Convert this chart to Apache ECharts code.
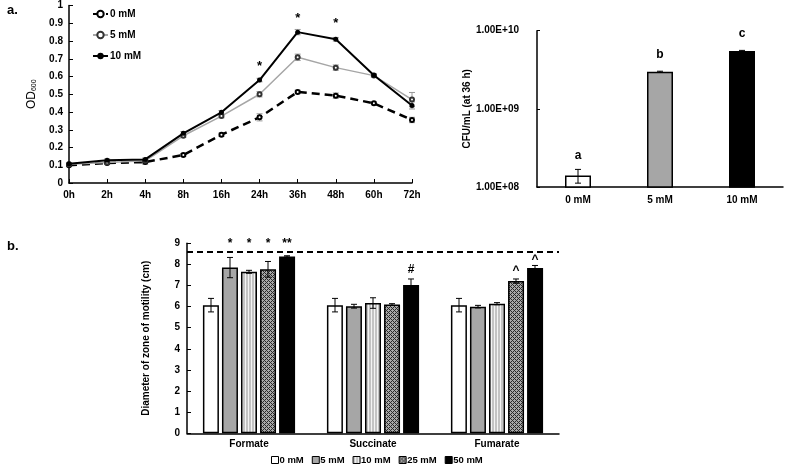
<!DOCTYPE html>
<html><head><meta charset="utf-8">
<script src="https://cdn.jsdelivr.net/npm/echarts@6/dist/echarts.min.js"></script>
<style>html,body{margin:0;padding:0;background:#fff}#c{width:787px;height:466px}</style>
</head><body><div id="c"></div>
<script>
// ---- Panel a (left): growth curve ----
const timeCats = ['0h','2h','4h','8h','16h','24h','36h','48h','60h','72h'];
const od0  = [0.10, 0.112, 0.118, 0.158, 0.272, 0.37, 0.513, 0.492, 0.449, 0.355];
const od5  = [0.105, 0.115, 0.125, 0.266, 0.377, 0.50, 0.708, 0.65, 0.605, 0.47];
const od10 = [0.108, 0.128, 0.133, 0.28, 0.398, 0.58, 0.85, 0.81, 0.607, 0.437];
const odErr0  = [0.005,0.005,0.012,0.008,0.01,0.02,0.01,0.015,0.008,0.015];
const odErr5  = [0.005,0.005,0.01,0.01,0.01,0.015,0.018,0.015,0.008,0.04];
const odErr10 = [0.005,0.008,0.008,0.01,0.01,0.01,0.015,0.01,0.008,0.02];
const odStarIdx = [5, 6, 7];
const odStarY = [0.655, 0.93, 0.90];
const lineNames = ['0 mM','5 mM','10 mM'];

// ---- Panel a (right): CFU ----
const cfuCats = ['0 mM','5 mM','10 mM'];
const cfuVals = [1.4e8, 2.98e9, 5.48e9];
const cfuErr  = [0.28e8, 0.05e9, 0.12e9];
const cfuLetters = ['a','b','c'];
const cfuLetterY = [2.5e8, 5.0e9, 9.2e9];

// ---- Panel b: motility ----
const acidCats = ['Formate','Succinate','Fumarate'];
const concNames = ['0 mM','5 mM','10 mM','25 mM','50 mM'];
const mot0  = [6.07, 6.07, 6.07];
const mot5  = [7.85, 6.02, 6.0];
const mot10 = [7.65, 6.17, 6.14];
const mot25 = [7.77, 6.10, 7.21];
const mot50 = [8.38, 7.03, 7.83];
const motErr0  = [0.32, 0.32, 0.32];
const motErr5  = [0.48, 0.09, 0.06];
const motErr10 = [0.07, 0.25, 0.05];
const motErr25 = [0.37, 0.04, 0.10];
const motErr50 = [0.03, 0.28, 0.12];
const motMarks = [['','',''], ['*','',''], ['*','',''], ['*','','^'], ['**','#','^']];
const motMarkY = [[0,0,0], [8.97,0,0], [8.97,0,0], [8.97,0,7.72], [8.97,7.73,8.24]];
const refLine = 8.6;

const FONT = 'Liberation Sans, Arial, sans-serif';

function stripe(){
  const c=document.createElement('canvas'); c.width=3; c.height=3;
  const x=c.getContext('2d'); x.fillStyle='#c4c4c4'; x.fillRect(0,0,3,3);
  x.fillStyle='#f4f4f4'; x.fillRect(2,0,1,3); return c;
}
function hatch(){
  const c=document.createElement('canvas'); c.width=4; c.height=4;
  const x=c.getContext('2d'); x.fillStyle='#a8a8a8'; x.fillRect(0,0,4,4);
  x.fillStyle='#2a2a2a';
  for(let i=0;i<4;i++){ for(let j=0;j<4;j++){ if((i+j)%4===0 || (i-j+4)%4===0) x.fillRect(i,j,1,1);} }
  return c;
}
const concColors = ['#ffffff','#a6a6a6',{image:stripe(),repeat:'repeat'},{image:hatch(),repeat:'repeat'},'#000000'];

const motVals = [mot0,mot5,mot10,mot25,mot50];
const motErrs = [motErr0,motErr5,motErr10,motErr25,motErr50];

const chart = echarts.init(document.getElementById('c'), null, {renderer:'canvas'});

const axisLine = {lineStyle:{color:'#000',width:1.5}};
const lbl = {color:'#000',fontWeight:'bold',fontSize:10,fontFamily:FONT};

function errRender(color, offFn){
  return function(params, api){
    const xi=api.value(0), v=api.value(1), e=api.value(2), s=api.value(3)||0;
    const off = offFn ? offFn(s) : 0;
    const p1=api.coord([xi, v+e]), p2=api.coord([xi, v-e]);
    const x=p1[0]+off, w=3;
    const st={stroke:color,lineWidth:1};
    return {type:'group',children:[
      {type:'line',shape:{x1:x,y1:p1[1],x2:x,y2:p2[1]},style:st},
      {type:'line',shape:{x1:x-w,y1:p1[1],x2:x+w,y2:p1[1]},style:st},
      {type:'line',shape:{x1:x-w,y1:p2[1],x2:x+w,y2:p2[1]},style:st}
    ]};
  };
}
function textRender(size, arr, offFn){
  return function(params, api){
    const d = arr[params.dataIndex];
    const off = offFn ? offFn(d[3]) : 0;
    const p=api.coord([d[0],d[1]]);
    return {type:'text',x:p[0]+off,y:p[1],style:{text:d[2],fill:'#000',font:'bold '+size+'px '+FONT,align:'center',verticalAlign:'middle'}};
  };
}

const series = [];
const odVals=[od0,od5,od10], odErrs=[odErr0,odErr5,odErr10];
series.push({name:'0 mM',type:'line',xAxisIndex:0,yAxisIndex:0,data:od0,symbol:'emptyCircle',symbolSize:4,
  lineStyle:{color:'#000',width:2.5,type:[8,5]},itemStyle:{color:'#000',borderWidth:1},z:3});
series.push({name:'5 mM',type:'line',xAxisIndex:0,yAxisIndex:0,data:od5,symbol:'emptyCircle',symbolSize:4,
  lineStyle:{color:'#a6a6a6',width:1.5},itemStyle:{color:'#333',borderWidth:1},z:3});
series.push({name:'10 mM',type:'line',xAxisIndex:0,yAxisIndex:0,data:od10,symbol:'circle',symbolSize:5,
  lineStyle:{color:'#000',width:2},itemStyle:{color:'#000'},z:4});
const odErrData=[];
for(let k=0;k<3;k++) for(let i=0;i<timeCats.length;i++) odErrData.push([i,odVals[k][i],odErrs[k][i]]);
series.push({type:'custom',xAxisIndex:0,yAxisIndex:0,data:odErrData,renderItem:errRender('#999'),z:2,silent:true});
const odStarData = odStarIdx.map((xi,i)=>[xi,odStarY[i],'*',0]);
series.push({type:'custom',xAxisIndex:0,yAxisIndex:0,data:odStarData.map(d=>[d[0],d[1]]),renderItem:textRender(13,odStarData),silent:true});

// CFU bars
series.push({type:'bar',xAxisIndex:1,yAxisIndex:1,barWidth:26,
  data:cfuVals.map((v,i)=>({value:v,itemStyle:{color:['#ffffff','#a6a6a6','#000000'][i],borderColor:'#000',borderWidth:1.5}}))});
series.push({type:'custom',xAxisIndex:1,yAxisIndex:1,data:cfuVals.map((v,i)=>[i,v,cfuErr[i]]),renderItem:errRender('#000'),z:5,silent:true});
const cfuLetData = cfuLetters.map((t,i)=>[i,cfuLetterY[i],t,0]);
series.push({type:'custom',xAxisIndex:1,yAxisIndex:1,data:cfuLetData.map(d=>[d[0],d[1]]),renderItem:textRender(12,cfuLetData),silent:true});

// Motility bars
for(let s=0;s<5;s++){
  const o={name:concNames[s],type:'bar',xAxisIndex:2,yAxisIndex:2,barWidth:16,barGap:'19%',data:motVals[s],
    itemStyle:{color:concColors[s],borderColor:'#000',borderWidth:1.5}};
  if(s===0){o.markLine={silent:true,symbol:'none',label:{show:false},lineStyle:{color:'#000',width:2,type:[6,4]},data:[{yAxis:refLine}]};}
  series.push(o);
}
const offB = s => (s-2)*19;
const motErrData=[], motMarkData=[];
for(let s=0;s<5;s++) for(let i=0;i<3;i++){
  motErrData.push([i,motVals[s][i],motErrs[s][i],s]);
  if(motMarks[s][i]) motMarkData.push([i,motMarkY[s][i],motMarks[s][i],s]);
}
series.push({type:'custom',xAxisIndex:2,yAxisIndex:2,data:motErrData,renderItem:errRender('#000',offB),z:5,silent:true});
series.push({type:'custom',xAxisIndex:2,yAxisIndex:2,data:motMarkData.map(d=>[d[0],d[1]]),renderItem:textRender(12,motMarkData,offB),silent:true});

chart.setOption({
  animation:false,
  textStyle:{fontFamily:FONT},
  graphic:[
    {type:'text',left:7,top:4,style:{text:'a.',font:'bold 13px '+FONT,fill:'#000'}},
    {type:'text',left:7,top:240,style:{text:'b.',font:'bold 13px '+FONT,fill:'#000'}}
  ],
  legend:[
    {data:lineNames,left:92,top:9,padding:0,orient:'vertical',itemWidth:15,itemHeight:8,itemGap:11,
     textStyle:{...lbl,fontSize:10,padding:[0,0,0,-3]}},
    {data:concNames.map((n,i)=>({name:n,icon:'rect',itemStyle:{color:concColors[i],borderColor:'#000',borderWidth:1}})),
     left:271,bottom:1,padding:0,itemWidth:7,itemHeight:7,itemGap:8,
     textStyle:{...lbl,fontSize:9.5,padding:[0,0,0,-4]}}
  ],
  grid:[
    {left:69,top:5.5,width:343,height:177.5},
    {left:537,top:30.7,width:246,height:156.3},
    {left:187,top:243.3,width:372,height:190}
  ],
  xAxis:[
    {gridIndex:0,type:'category',data:timeCats,boundaryGap:false,axisLine,axisTick:{inside:true,length:4,lineStyle:{color:'#000'}},axisLabel:{...lbl,margin:7}},
    {gridIndex:1,type:'category',data:cfuCats,axisLine,axisTick:{inside:true,length:3,lineStyle:{color:'#000'}},axisLabel:{...lbl,margin:8}},
    {gridIndex:2,type:'category',data:acidCats,axisLine,axisTick:{inside:true,length:3,lineStyle:{color:'#000'}},axisLabel:{...lbl,fontSize:10,margin:6}}
  ],
  yAxis:[
    {gridIndex:0,type:'value',min:0,max:1,interval:0.1,axisLine:{show:true,...axisLine},axisTick:{show:true,inside:true,length:4,lineStyle:{color:'#000'}},
     splitLine:{show:false},axisLabel:{...lbl,margin:6},
     name:'{a|OD}{b|600}',nameLocation:'middle',nameGap:31,
     nameTextStyle:{rich:{a:{fontSize:12,fontFamily:FONT,color:'#000'},b:{fontSize:7,fontFamily:FONT,color:'#000',padding:[6,0,0,0]}}}},
    {gridIndex:1,type:'log',logBase:10,min:1e8,max:1e10,axisLine:{show:true,...axisLine},axisTick:{show:true,inside:true,length:3,lineStyle:{color:'#000'}},
     splitLine:{show:false},minorTick:{show:false},
     axisLabel:{...lbl,margin:18,formatter:v=>'1.00E+'+String(Math.round(Math.log10(v))).padStart(2,'0')},
     name:'CFU/mL (at 36 h)',nameLocation:'middle',nameGap:59,nameTextStyle:{...lbl,fontSize:10}},
    {gridIndex:2,type:'value',min:0,max:9,interval:1,axisLine:{show:true,...axisLine},axisTick:{show:true,inside:true,length:4,lineStyle:{color:'#000'}},
     splitLine:{show:false},axisLabel:{...lbl,margin:7},
     name:'Diameter of zone of motility (cm)',nameLocation:'middle',nameGap:36,nameTextStyle:{...lbl,fontSize:10}}
  ],
  series
});
</script></body></html>
